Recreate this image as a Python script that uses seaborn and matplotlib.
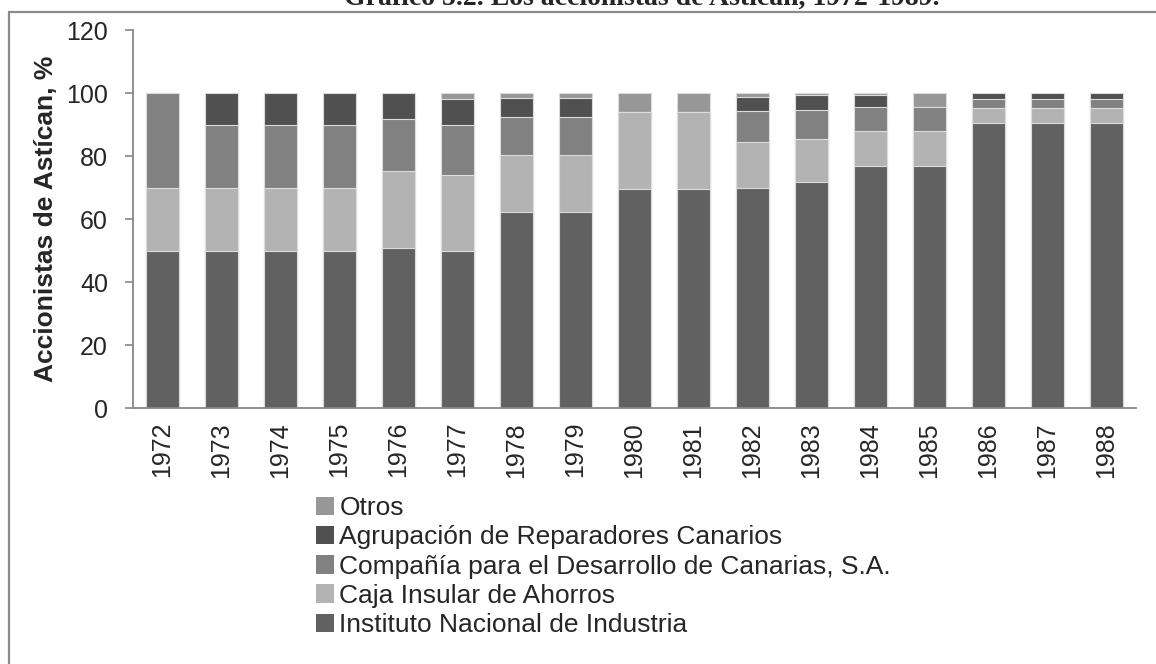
import numpy as np
import pandas as pd
import seaborn as sns
import matplotlib
matplotlib.use('Agg')
import matplotlib.pyplot as plt
from matplotlib.patches import Patch, Rectangle

# datos (% del capital)
years = ['1972', '1973', '1974', '1975', '1976', '1977', '1978', '1979', '1980',
         '1981', '1982', '1983', '1984', '1985', '1986', '1987', '1988']
ini = [50, 50, 50, 50, 50.9, 50, 62.1, 62.1, 69.4, 69.4, 69.7, 71.6, 76.8, 76.8, 90.6, 90.6, 90.6]
caja = [20, 20, 20, 20, 24.5, 24, 18.3, 18.3, 24.6, 24.6, 14.7, 13.8, 11.3, 11.2, 4.7, 4.7, 4.7]
compania = [30, 20, 20, 20, 16.4, 16, 12, 12, 0, 0, 9.8, 9.2, 7.6, 7.5, 2.9, 2.9, 2.9]
agrupacion = [0, 10, 10, 10, 8.2, 8, 6.1, 6.1, 0, 0, 4.6, 4.9, 3.8, 0, 1.8, 1.8, 1.8]
otros = [0, 0, 0, 0, 0, 2, 1.5, 1.5, 6, 6, 1.2, 0.5, 0.5, 4.5, 0, 0, 0]

series = ['Instituto Nacional de Industria', 'Caja Insular de Ahorros',
          'Compañía para el Desarrollo de Canarias, S.A.',
          'Agrupación de Reparadores Canarios', 'Otros']
colors = ['#616161', '#b3b3b3', '#818181', '#505050', '#979797']

df = pd.DataFrame({'year': years, series[0]: ini, series[1]: caja, series[2]: compania,
                   series[3]: agrupacion, series[4]: otros})
cum = df[series].cumsum(axis=1)

sns.set_style('white')
plt.rcParams['font.family'] = ['Liberation Sans', 'DejaVu Sans']

fig = plt.figure(figsize=(11.56, 6.64), dpi=100)
ax = fig.add_axes([0.115, 0.3855, 0.8677, 0.5693])

# barras apiladas: de la serie superior (acumulado total) hacia abajo
for name, col in reversed(list(zip(series, colors))):
    sns.barplot(x=df['year'], y=cum[name], color=col, saturation=1, width=0.565,
                edgecolor='#dcdcdc', linewidth=0.8, ax=ax)

ax.set_ylim(0, 120)
ax.set_yticks(range(0, 121, 20))
ax.set_xlim(-0.5, len(years) - 0.5)
ax.set_xlabel('')
ax.set_ylabel('Accionistas de Astícan, %', fontsize=19, fontweight='bold', labelpad=6)
ax.tick_params(axis='y', direction='out', length=6, width=1.2, color='#888888',
               labelsize=18, pad=12, left=True)
ax.tick_params(axis='x', length=0, labelsize=18, pad=10, labelrotation=90)
for s in ['top', 'right']:
    ax.spines[s].set_visible(False)
for s in ['left', 'bottom']:
    ax.spines[s].set_color('#888888')
    ax.spines[s].set_linewidth(1.3)

handles = [Patch(facecolor=c, edgecolor='none') for c in colors][::-1]
fig.legend(handles, series[::-1], loc='upper left', bbox_to_anchor=(0.273, 0.253),
           frameon=False, fontsize=19, handlelength=0.7, handleheight=0.7,
           handletextpad=0.2, labelspacing=0.2, borderpad=0, borderaxespad=0)

# marco exterior y título recortado
fig.patches.append(Rectangle((9 / 1156, -0.05), 1.2, 1.05 - 12 / 664, transform=fig.transFigure,
                             fill=False, edgecolor='#8c8c8c', linewidth=1.6))
fig.text(0.555, 1 - 5 / 664, 'Gráfico 5.2. Los accionistas de Astícan, 1972-1989.',
         ha='center', va='baseline', fontsize=20, fontweight='bold',
         family=['Liberation Serif', 'DejaVu Serif'])

fig.savefig('out.png', dpi=100)
